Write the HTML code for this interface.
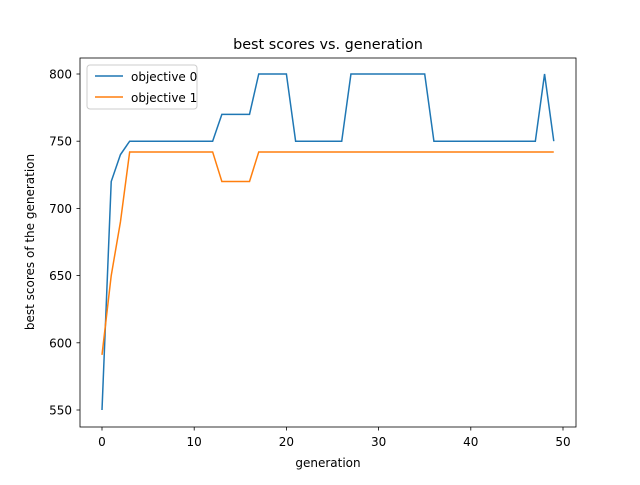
<!DOCTYPE html>
<html><head><meta charset="utf-8"><style>
body{margin:0;background:#fff;}
text{font-family:"DejaVu Sans","Liberation Sans",sans-serif;fill:#000;}
</style></head><body>
<svg id="chart" width="640" height="480" xmlns="http://www.w3.org/2000/svg">
<rect width="640" height="480" fill="#fff"/>
<text x="328" y="49" font-size="14.4" text-anchor="middle">best scores vs. generation</text>
<g id="plot"></g>
<rect x="80" y="58" width="496" height="369" fill="none" stroke="#000" stroke-width="0.8"/>
<text x="328" y="467" font-size="12" text-anchor="middle">generation</text>
<text transform="translate(34,242) rotate(-90)" font-size="12" text-anchor="middle">best scores of the generation</text>
<g>
<rect x="87" y="65" width="110" height="44" rx="3" fill="#fff" fill-opacity="0.8" stroke="#ccc"/>
<line x1="95" y1="76" x2="123" y2="76" stroke="#1f77b4" stroke-width="1.5"/>
<text x="131" y="81" font-size="12">objective 0</text>
<line x1="95" y1="97" x2="123" y2="97" stroke="#ff7f0e" stroke-width="1.5"/>
<text x="131" y="102" font-size="12">objective 1</text>
</g>
</svg>
<script>
const xTicks=[0,10,20,30,40,50];
const yTicks=[550,600,650,700,750,800];
const obj0=[550,720,740,750,750,750,750,750,750,750,750,750,750,770,770,770,770,800,800,800,800,750,750,750,750,750,750,800,800,800,800,800,800,800,800,800,750,750,750,750,750,750,750,750,750,750,750,750,800,750];
const obj1=[591,650,690,742,742,742,742,742,742,742,742,742,742,720,720,720,720,742,742,742,742,742,742,742,742,742,742,742,742,742,742,742,742,742,742,742,742,742,742,742,742,742,742,742,742,742,742,742,742,742];
const sx=v=>102+(v-0)*(563-102)/50;
const sy=v=>410-(v-550)*(410-74)/250;
const g=document.getElementById('plot');
const NS='http://www.w3.org/2000/svg';
function mk(t,a){const e=document.createElementNS(NS,t);for(const k in a)e.setAttribute(k,a[k]);g.appendChild(e);return e;}
xTicks.forEach(t=>{
 const l=mk('line',{x1:sx(t),x2:sx(t),y1:427,y2:430.5,stroke:'#000','stroke-width':0.8});
 
 
 const tx=mk('text',{x:sx(t),y:446,'font-size':12,'text-anchor':'middle'});tx.textContent=t;
 
 
});
yTicks.forEach(t=>{
 const l=mk('line',{x1:76.5,x2:80,y1:sy(t),y2:sy(t),stroke:'#000','stroke-width':0.8});
 
 
 const tx=mk('text',{x:72,y:sy(t)+4.5,'font-size':12,'text-anchor':'end'});tx.textContent=t;
 
 
});
[[obj0,'#1f77b4','line-objective-0'],[obj1,'#ff7f0e','line-objective-1']].forEach(([d,c,n])=>{
 const p=mk('polyline',{points:d.map((v,i)=>sx(i)+','+sy(v)).join(' '),fill:'none',stroke:c,'stroke-width':1.5});
 
 
});
</script>
</body></html>
